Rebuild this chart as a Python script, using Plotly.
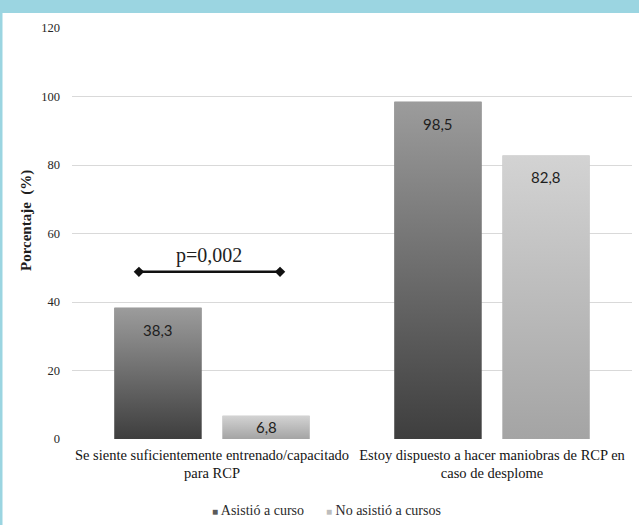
import plotly.graph_objects as go

# ---- data ----
categories = [
    "Se siente suficientemente entrenado/capacitado<br>para RCP",
    "Estoy dispuesto a hacer maniobras de RCP en<br>caso de desplome",
]
series_names = ["Asistió a curso", "No asistió a cursos"]
asistio = [38.3, 98.5]
no_asistio = [6.8, 82.8]
value_labels_asistio = ["38,3", "98,5"]
value_labels_no = ["6,8", "82,8"]
y_ticks = [0, 20, 40, 60, 80, 100, 120]
p_text = "p=0,002"
p_level = 48.8

# ---- styling ----
W, H = 639, 525
M_L, M_R, M_T, M_B = 72, 7, 28, 86
PLOT_W = W - M_L - M_R
PLOT_H = H - M_T - M_B
Y_MAX = 120
PX_PER_UNIT = PLOT_H / Y_MAX

SERIF = "Liberation Serif, DejaVu Serif, serif"
SANS = "Lato, Liberation Sans, sans-serif"
BORDER = "#9bd5e1"

BAR_W = 0.311
OFFSET = 0.193

series = [
    dict(name=series_names[0], values=asistio, labels=value_labels_asistio,
         dx=-OFFSET, solid="#6a6a6a", grad=[[0, "#3e3e3e"], [1, "#9c9c9c"]],
         swatch="#5a5a5a"),
    dict(name=series_names[1], values=no_asistio, labels=value_labels_no,
         dx=OFFSET, solid="#bcbcbc", grad=[[0, "#a4a4a4"], [1, "#d3d3d3"]],
         swatch="#bdbdbd"),
]

fig = go.Figure()
annotations = []

for s in series:
    xs = [i + s["dx"] for i in range(len(categories))]
    fig.add_trace(go.Bar(
        x=xs, y=s["values"], width=BAR_W, name=s["name"],
        marker=dict(color=s["solid"], line=dict(width=0)),
        showlegend=False, hoverinfo="skip",
    ))
    # vertical gradient fill laid over each bar
    for xc, v in zip(xs, s["values"]):
        x0, x1 = xc - BAR_W / 2, xc + BAR_W / 2
        fig.add_trace(go.Scatter(
            x=[x0, x0, x1, x1, x0], y=[0, v, v, 0, 0],
            mode="lines", fill="toself", line=dict(width=0, color="rgba(0,0,0,0)"),
            fillgradient=dict(type="vertical", colorscale=s["grad"]),
            showlegend=False, hoverinfo="skip",
        ))
    # value labels near the top inside each bar
    for xc, v, lab in zip(xs, s["values"], s["labels"]):
        tall = v * PX_PER_UNIT > 50
        annotations.append(dict(
            x=xc, y=v, xref="x", yref="y", text=lab, showarrow=False,
            yanchor="top", yshift=-11 if tall else 0,
            font=dict(family=SANS, size=15, color="#1e1e1e"),
        ))

# significance bracket between the two bars of the first group
fig.add_trace(go.Scatter(
    x=[-0.261, 0.243], y=[p_level, p_level], mode="lines+markers",
    line=dict(color="#111111", width=2.5),
    marker=dict(symbol="diamond", size=8, color="#111111"),
    showlegend=False, hoverinfo="skip",
))
annotations.append(dict(
    x=-0.01, y=p_level, xref="x", yref="y", text=p_text, showarrow=False,
    yanchor="bottom", yshift=3,
    font=dict(family=SERIF, size=20, color="#1e1e1e"),
))

# y-axis title
annotations.append(dict(
    x=(26 - M_L) / PLOT_W, y=(PLOT_H - (221 - M_T)) / PLOT_H,
    xref="paper", yref="paper", xanchor="center", yanchor="middle",
    text="<b>Porcentaje  (%)</b>", textangle=-90,
    showarrow=False, font=dict(family=SERIF, size=15, color="#1e1e1e"),
))

# legend drawn as text with coloured squares
leg_y = (PLOT_H - (510 - M_T)) / PLOT_H
leg_items = [(series[0]["swatch"], series_names[0], 210),
             (series[1]["swatch"], series_names[1], 324)]
for col, name, px in leg_items:
    annotations.append(dict(
        x=(px - M_L) / PLOT_W, y=leg_y, xref="paper", yref="paper",
        xanchor="left", yanchor="middle", showarrow=False,
        text=f'<span style="color:{col};font-size:10px">■</span> {name}',
        font=dict(family=SERIF, size=14, color="#2a2a2a"),
    ))

# light-blue frame: band on top and a thin strip on the left
shapes = [
    dict(type="rect", xref="paper", yref="paper",
         x0=-0.2, x1=1.2, y0=(PLOT_H + M_T - 13) / PLOT_H, y1=1.2,
         fillcolor=BORDER, line=dict(width=0), layer="above"),
    dict(type="rect", xref="paper", yref="paper",
         x0=-0.2, x1=(2.5 - M_L) / PLOT_W, y0=-0.5, y1=1.2,
         fillcolor=BORDER, line=dict(width=0), layer="above"),
]

fig.update_layout(
    width=W, height=H,
    margin=dict(l=M_L, r=M_R, t=M_T, b=M_B),
    paper_bgcolor="white", plot_bgcolor="white",
    barmode="overlay", showlegend=False,
    annotations=annotations, shapes=shapes,
    xaxis=dict(
        range=[-0.5, len(categories) - 0.5],
        tickvals=list(range(len(categories))), ticktext=categories,
        showgrid=False, zeroline=False, showline=False, ticks="",
        tickfont=dict(family=SERIF, size=14.5, color="#141414"),
        ticklabelstandoff=5,
    ),
    yaxis=dict(
        range=[0, Y_MAX], tickvals=y_ticks,
        showgrid=True, gridcolor="#d9d9d9", gridwidth=1,
        zeroline=False, showline=False, ticks="",
        tickfont=dict(family=SERIF, size=12.5, color="#262626"),
        ticklabelstandoff=11,
    ),
)

fig.write_html("out.html")
